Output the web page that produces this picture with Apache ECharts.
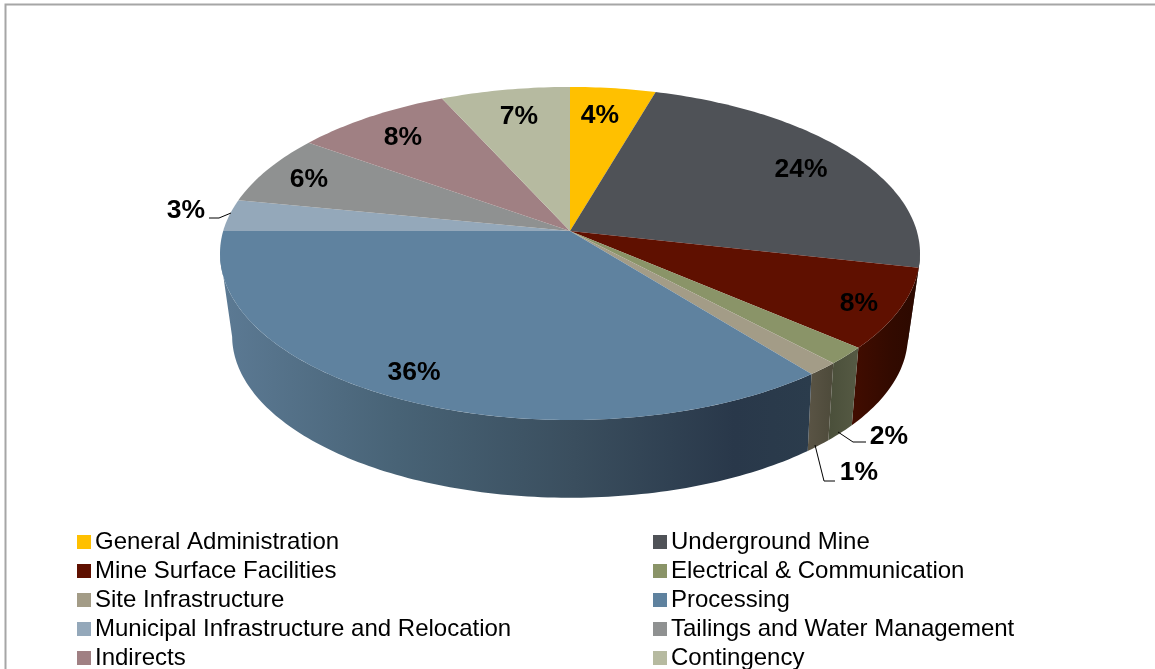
<!DOCTYPE html>
<html><head><meta charset="utf-8">
<style>html,body{margin:0;padding:0;background:#fff}#c{width:1155px;height:669px}</style>
<script src="https://cdn.jsdelivr.net/npm/echarts@6/dist/echarts.min.js"></script>
</head><body><div id="c"></div>
<script>
const categories = ['General Administration','Underground Mine','Mine Surface Facilities','Electrical & Communication','Site Infrastructure','Processing','Municipal Infrastructure and Relocation','Tailings and Water Management','Indirects','Contingency'];
const shares = [4.5,24.0,7.8,1.7,1.3,35.7,3.1,6.8,8.3,6.8];
const shareLabels = ['4%','24%','8%','2%','1%','36%','3%','6%','8%','7%'];

// styles
const topColors = ['#FFC000','#4F5257','#5F1000','#8A9468','#A39C87','#5F829F','#94A8BA','#8F9191','#A08083','#B6BAA0'];
const wallStops = [
  null,
  [[0,'#2f3133'],[1,'#2f3133']],
  [[0,'#420d00'],[0.6,'#320a00'],[1,'#2c0900']],
  [[0,'#4a4f3a'],[1,'#565a44']],
  [[0,'#5a5445'],[1,'#4d4a3a']],
  [[0,'#5c7a94'],[0.3,'#486376'],[0.6,'#3a4e5e'],[0.87,'#29384a'],[1,'#2b3c4c']],
  null,null,null,null
];
// layout
const DISC_TOP = {cx:570, cy:231, R:346.8, S:163.5, a:0.135};
const DISC_LOW = {cx:570, cy:315, R:335, S:159, a:0.13};
const WALL_FROM = 97.7, WALL_TO = 262.3;
const labelPos = [[600,116],[801,170],[859,304],[889,437],[859,473],[414,373],[186,211],[309,180],[403,138],[519,117]];
const leaders = {3:[[838,432],[853,442],[866,442]],4:[[815,445],[824,481],[835,481]],6:[[209,218],[219,218],[231,213]]};

function project(d, deg, r){
  const t = deg*Math.PI/180, u = r*Math.sin(t), v = -r*Math.cos(t), w = 1-d.a*v;
  return [d.cx+d.R*u/w, d.cy+d.S*v/w];
}
function arc(d, a0, a1){
  const n = Math.max(2, Math.ceil(Math.abs(a1-a0)));
  const pts=[];
  for(let i=0;i<=n;i++) pts.push(project(d, a0+(a1-a0)*i/n, 1));
  return pts;
}
// Wall edges on the right-hand side stand slightly closer to vertical than the rim scaling gives.
function lowAngle(a){ return a<180 ? a-1.2*Math.sin(2*(a-90)*Math.PI/180) : a; }
const total = shares.reduce((s,v)=>s+v,0);
let acc = 0;
const spans = shares.map(v=>{const s=acc; acc+=v; return [s/total*360, acc/total*360];});

function renderSlice(idx){
  return function(params, api){
    const a0 = api.value(0), a1 = api.value(1);
    const children=[];
    const w0 = Math.max(a0, WALL_FROM), w1 = Math.min(a1, WALL_TO);
    if(wallStops[idx] && w1>w0){
      const pts = arc(DISC_TOP,w0,w1).concat(arc(DISC_LOW,lowAngle(w1),lowAngle(w0)));
      children.push({type:'polygon',shape:{points:pts},style:{
        fill:{type:'linear',x:0,y:0,x2:1,y2:0,colorStops:wallStops[idx].map(s=>({offset:s[0],color:s[1]}))}
      }});
    }
    const top=[[DISC_TOP.cx,DISC_TOP.cy]].concat(arc(DISC_TOP,a0,a1));
    children.push({type:'polygon',shape:{points:top},style:{fill:topColors[idx]}});
    if(leaders[idx]) children.push({type:'polyline',z2:5,shape:{points:leaders[idx]},style:{stroke:'#000',lineWidth:1,fill:null}});
    children.push({type:'text',z2:6,x:labelPos[idx][0],y:labelPos[idx][1],style:{
      text:shareLabels[idx],font:'bold 26.5px "Liberation Sans"',fill:'#000',align:'center',verticalAlign:'middle'}});
    return {type:'group',children};
  };
}
const legendBase = {orient:'vertical',top:530,height:200,icon:'rect',itemWidth:14,itemHeight:14,itemGap:5,padding:0,
  textStyle:{fontFamily:'Liberation Sans',fontSize:24,color:'#000',padding:[0,0,0,-1]}};
const option = {
  animation:false,
  backgroundColor:'#fff',
  graphic:[{type:'polyline',shape:{points:[[5.5,669],[5.5,4.5],[1155,4.5]]},style:{stroke:'#a6a6a6',lineWidth:2,fill:null},silent:true}],
  legend:[
    Object.assign({},legendBase,{left:77,data:categories.filter((c,i)=>i%2===0)}),
    Object.assign({},legendBase,{left:653,data:categories.filter((c,i)=>i%2===1)})
  ],
  series:categories.map((name,i)=>({
    type:'custom',name,coordinateSystem:'none',silent:true,
    itemStyle:{color:topColors[i]},
    data:[spans[i]],
    renderItem:renderSlice(i)
  }))
};
echarts.init(document.getElementById('c'),null,{renderer:'canvas'}).setOption(option);
</script></body></html>
